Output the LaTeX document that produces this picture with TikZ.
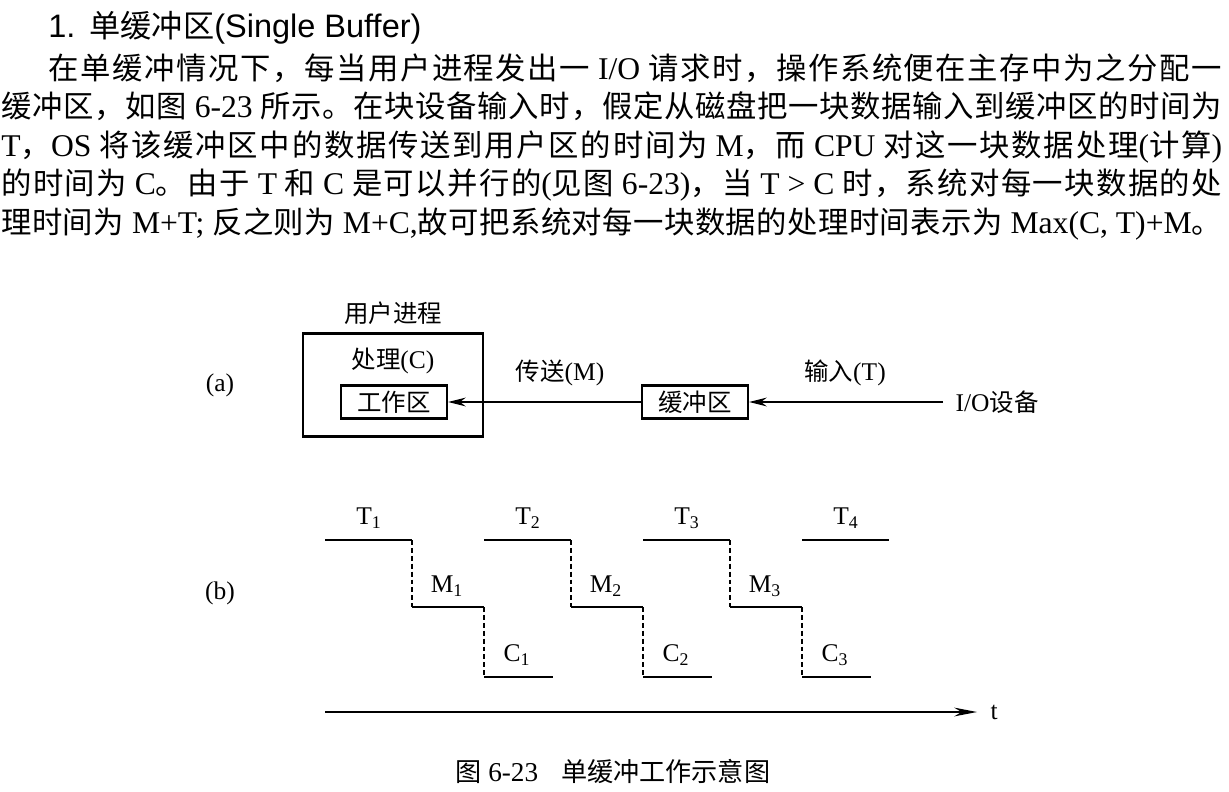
\documentclass[tikz,border=0pt]{standalone}
\usepackage{fontspec}
\setmainfont{Liberation Serif}
\setsansfont{Liberation Sans}
\newfontfamily\cjk[Scale=0.96]{Noto Sans CJK SC}
\usetikzlibrary{arrows.meta}

% glue between Chinese characters, so that a line can be justified
\newXeTeXintercharclass\hanclass
\newcount\hanchar
\hanchar="4E00 \loop \XeTeXcharclass\hanchar=\hanclass \ifnum\hanchar<"9FFF \advance\hanchar 1 \repeat
\hanchar="3000 \loop \XeTeXcharclass\hanchar=\hanclass \ifnum\hanchar<"303F \advance\hanchar 1 \repeat
\hanchar="FF01 \loop \XeTeXcharclass\hanchar=\hanclass \ifnum\hanchar<"FF5E \advance\hanchar 1 \repeat
\XeTeXinterchartoks\hanclass\hanclass={\hskip 0pt plus 1fil}
\XeTeXinterchartokenstate=1

\tikzset{
    title/.style={anchor=base west, inner sep=0pt, font=\sffamily\fontsize{18.5}{22}\selectfont},
    body/.style={anchor=base west, inner sep=0pt, font=\fontsize{18}{22}\selectfont},
    figcap/.style={anchor=base west, inner sep=0pt, font=\fontsize{15.5}{18}\selectfont},
    lbl/.style={inner sep=0pt, font=\fontsize{14.5}{17}\selectfont},
    box/.style={draw, line width=1.3pt, inner sep=0pt, font=\fontsize{14.5}{17}\selectfont},
    flow/.style={line width=0.8pt, -{Stealth[length=10pt, width=5pt]}},
    axis/.style={line width=0.8pt, -{Stealth[length=13pt, width=5pt]}},
    level/.style={line width=1.3pt},
    gap/.style={line width=1pt, dash pattern=on 2.8pt off 1.7pt}
}

\begin{document}
\begin{tikzpicture}[x=0.02cm, y=-0.02cm]
    \useasboundingbox (0,0) rectangle (1229,791);

    % Text
    \node[title] (head) at (48,37) {1.\hskip 8pt{\cjk 单缓冲区}(Single Buffer)};
    \node[body] (line1) at (48,79) {\makebox[23.48cm][s]{{\cjk 在单缓冲情况下，每当用户进程发出一} I/O {\cjk 请求时，操作系统便在主存中为之分配一}}};
    \node[body] (line2) at (1,117) {\makebox[24.42cm][s]{{\cjk 缓冲区，如图} 6-23 {\cjk 所示。在块设备输入时，假定从磁盘把一块数据输入到缓冲区的时间为}}};
    \node[body] (line3) at (1,156) {\makebox[24.42cm][s]{T{\cjk ，}OS {\cjk 将该缓冲区中的数据传送到用户区的时间为} M{\cjk ，而} CPU {\cjk 对这一块数据处理}({\cjk 计算})}};
    \node[body] (line4) at (1,194) {\makebox[24.42cm][s]{{\cjk 的时间为} C{\cjk 。由于} T {\cjk 和} C {\cjk 是可以并行的}({\cjk 见图} 6-23){\cjk ，当} T > C {\cjk 时，系统对每一块数据的处}}};
    \node[body] (line5) at (1,233) {\makebox[24.42cm][s]{{\cjk 理时间为} M+T; {\cjk 反之则为} M+C,{\cjk 故可把系统对每一块数据的处理时间表示为} Max(C, T)+M{\cjk 。}}};

    % (a) Boxes
    \node[lbl] (tag_a) at (220,385) {(a)};
    \node[box, minimum width=3.6cm, minimum height=2.06cm] (box_user) at (393,385) {};
    \node[lbl] (lbl_user) at (393,313) {\cjk 用户进程};
    \node[lbl] (lbl_proc) at (393,361) {{\cjk 处理}(C)};
    \node[box, minimum width=2.12cm, minimum height=0.66cm] (box_work) at (394,402) {\cjk 工作区};
    \node[box, minimum width=2.12cm, minimum height=0.66cm] (box_buf) at (695,402) {\cjk 缓冲区};
    \node[lbl, anchor=west, inner xsep=7pt] (lbl_dev) at (943,402) {I/O{\cjk 设备}};

    % (a) Edges
    \draw[flow] (box_buf.west) -- (box_work.east);
    \node[lbl] (lbl_move) at (560,373) {{\cjk 传送}(M)};
    \draw[flow] (lbl_dev.west) -- (box_buf.east);
    \node[lbl] (lbl_in) at (845,373) {{\cjk 输入}(T)};

    % (b) Steps
    \node[lbl] (tag_b) at (220,593) {(b)};

    \draw[level] (325,540) -- (412,540);
    \draw[gap] (412,540) -- (412,607);
    \draw[level] (412,607) -- (484,607);
    \draw[gap] (484,607) -- (484,677);
    \draw[level] (484,677) -- (553,677);

    \draw[level] (484,540) -- (571,540);
    \draw[gap] (571,540) -- (571,607);
    \draw[level] (571,607) -- (643,607);
    \draw[gap] (643,607) -- (643,677);
    \draw[level] (643,677) -- (712,677);

    \draw[level] (643,540) -- (730,540);
    \draw[gap] (730,540) -- (730,607);
    \draw[level] (730,607) -- (802,607);
    \draw[gap] (802,607) -- (802,677);
    \draw[level] (802,677) -- (871,677);

    \draw[level] (802,540) -- (889,540);

    % (b) Labels
    \node[lbl] (lbl_t1) at (369,518) {T\textsubscript{1}};
    \node[lbl] (lbl_t2) at (528,518) {T\textsubscript{2}};
    \node[lbl] (lbl_t3) at (687,518) {T\textsubscript{3}};
    \node[lbl] (lbl_t4) at (846,518) {T\textsubscript{4}};
    \node[lbl] (lbl_m1) at (447,586) {M\textsubscript{1}};
    \node[lbl] (lbl_m2) at (606,586) {M\textsubscript{2}};
    \node[lbl] (lbl_m3) at (765,586) {M\textsubscript{3}};
    \node[lbl] (lbl_c1) at (517,655) {C\textsubscript{1}};
    \node[lbl] (lbl_c2) at (676,655) {C\textsubscript{2}};
    \node[lbl] (lbl_c3) at (835,655) {C\textsubscript{3}};

    % Time axis
    \coordinate (t_start) at (325,712);
    \node[lbl, anchor=west, inner xsep=7.5pt] (lbl_t) at (977,712) {t};
    \draw[axis] (t_start) -- (lbl_t.west);

    % Caption
    \node[figcap] (caption) at (455,781) {{\cjk 图} 6-23\hskip 13pt{\cjk 单缓冲工作示意图}};
\end{tikzpicture}
\end{document}
